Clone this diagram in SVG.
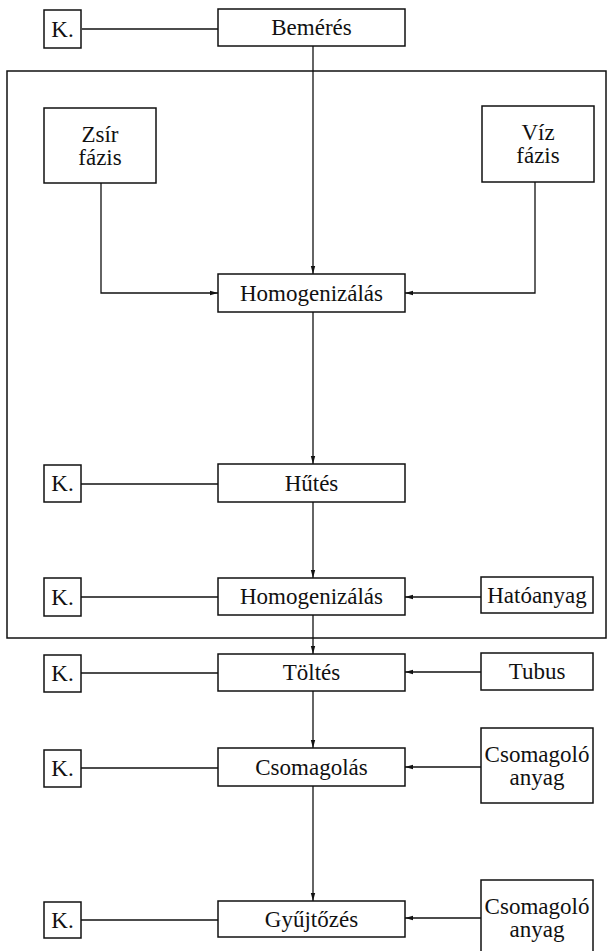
<svg xmlns="http://www.w3.org/2000/svg" width="609" height="951" viewBox="0 0 609 951">
<style>
.box{fill:#fff;stroke:#111;stroke-width:1.5}
.ln{fill:none;stroke:#111;stroke-width:1.3}
.t{font-family:"Liberation Serif","Times New Roman",serif;font-size:23px;fill:#111;text-anchor:middle}
</style>
<defs>
<marker id="ah" markerWidth="8" markerHeight="6" refX="8" refY="3" orient="auto" markerUnits="userSpaceOnUse">
<path d="M0,0.8 L8,3 L0,5.2 z" fill="#111"/>
</marker>
</defs>
<rect width="609" height="951" fill="#fff"/>
<rect id="frame" x="7" y="71" width="599" height="567" fill="none" stroke="#111" stroke-width="1.5"/>
<g id="connectors">
<line class="ln" x1="82" y1="29" x2="218" y2="29"/>
<line class="ln" x1="313" y1="46" x2="313" y2="274" marker-end="url(#ah)"/>
<polyline class="ln" points="101,183 101,293 218,293" marker-end="url(#ah)"/>
<polyline class="ln" points="535,182 535,293 405,293" marker-end="url(#ah)"/>
<line class="ln" x1="313" y1="312" x2="313" y2="464" marker-end="url(#ah)"/>
<line class="ln" x1="81" y1="484" x2="218" y2="484"/>
<line class="ln" x1="313" y1="502" x2="313" y2="578" marker-end="url(#ah)"/>
<line class="ln" x1="81" y1="597" x2="218" y2="597"/>
<line class="ln" x1="481" y1="597" x2="405" y2="597" marker-end="url(#ah)"/>
<line class="ln" x1="313" y1="615" x2="313" y2="654" marker-end="url(#ah)"/>
<line class="ln" x1="81" y1="673" x2="218" y2="673"/>
<line class="ln" x1="481" y1="672" x2="405" y2="672" marker-end="url(#ah)"/>
<line class="ln" x1="313" y1="691" x2="313" y2="748" marker-end="url(#ah)"/>
<line class="ln" x1="81" y1="768" x2="218" y2="768"/>
<line class="ln" x1="481" y1="767" x2="405" y2="767" marker-end="url(#ah)"/>
<line class="ln" x1="313" y1="786" x2="313" y2="901" marker-end="url(#ah)"/>
<line class="ln" x1="81" y1="920" x2="218" y2="920"/>
<line class="ln" x1="481" y1="918" x2="405" y2="918" marker-end="url(#ah)"/>
</g>
<g id="k1"><rect class="box" x="44" y="10" width="37" height="38"/><text class="t" x="62.5" y="36.5">K.</text></g>
<g id="bemeres"><rect class="box" x="218" y="9" width="187" height="37"/><text class="t" x="311.5" y="35">Bemérés</text></g>
<g id="zsir"><rect class="box" x="44" y="108" width="112" height="75"/><text class="t" x="100" y="141.5">Zsír</text><text class="t" x="100" y="164.5">fázis</text></g>
<g id="viz"><rect class="box" x="482" y="106" width="112" height="76"/><text class="t" x="538" y="140">Víz</text><text class="t" x="538" y="163">fázis</text></g>
<g id="homog1"><rect class="box" x="218" y="274" width="187" height="38"/><text class="t" x="311.5" y="300.5">Homogenizálás</text></g>
<g id="k2"><rect class="box" x="44" y="465" width="37" height="37"/><text class="t" x="62.5" y="491">K.</text></g>
<g id="hutes"><rect class="box" x="218" y="464" width="187" height="38"/><text class="t" x="311.5" y="490.5">Hűtés</text></g>
<g id="k3"><rect class="box" x="44" y="578" width="37" height="38"/><text class="t" x="62.5" y="604.5">K.</text></g>
<g id="homog2"><rect class="box" x="218" y="578" width="187" height="37"/><text class="t" x="311.5" y="604">Homogenizálás</text></g>
<g id="hatoanyag"><rect class="box" x="481" y="577" width="112" height="36"/><text class="t" x="537" y="602.5">Hatóanyag</text></g>
<g id="k4"><rect class="box" x="44" y="655" width="37" height="37"/><text class="t" x="62.5" y="681">K.</text></g>
<g id="toltes"><rect class="box" x="218" y="654" width="187" height="37"/><text class="t" x="311.5" y="680">Töltés</text></g>
<g id="tubus"><rect class="box" x="481" y="653" width="112" height="37"/><text class="t" x="537" y="679">Tubus</text></g>
<g id="k5"><rect class="box" x="44" y="750" width="37" height="37"/><text class="t" x="62.5" y="776">K.</text></g>
<g id="csomagolas"><rect class="box" x="218" y="748" width="187" height="38"/><text class="t" x="311.5" y="774.5">Csomagolás</text></g>
<g id="csomag1"><rect class="box" x="481" y="728" width="112" height="75"/><text class="t" x="537" y="761.5">Csomagoló</text><text class="t" x="537" y="784.5">anyag</text></g>
<g id="k6"><rect class="box" x="44" y="902" width="37" height="36"/><text class="t" x="62.5" y="927.5">K.</text></g>
<g id="gyujtozes"><rect class="box" x="218" y="901" width="187" height="36"/><text class="t" x="311.5" y="926.5">Gyűjtőzés</text></g>
<g id="csomag2"><rect class="box" x="481" y="880" width="112" height="75"/><text class="t" x="537" y="913.5">Csomagoló</text><text class="t" x="537" y="936.5">anyag</text></g>
</svg>
